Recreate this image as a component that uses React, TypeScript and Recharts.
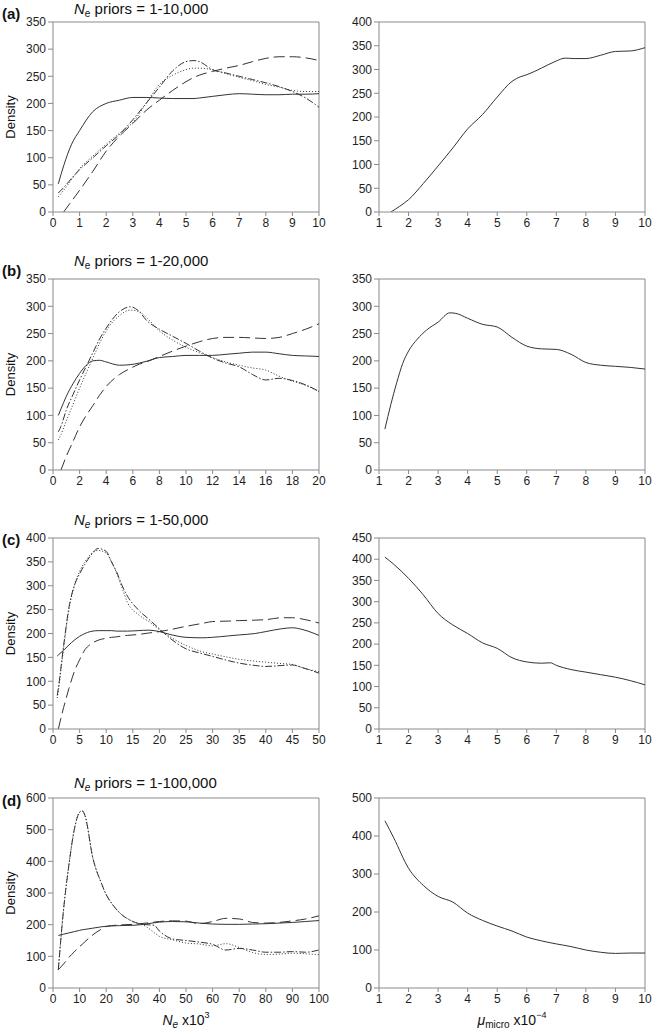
import React from 'react';
import { LineChart, Line, XAxis, YAxis, ReferenceLine } from 'recharts';

const FONT = '"Liberation Sans", Arial, Helvetica, sans-serif';

// ---------- Panel (a) : Ne priors 1-10,000 ----------
const aX = [0.2, 0.4, 0.7, 1, 1.5, 2, 2.5, 3, 3.5, 4, 4.5, 5, 5.3, 5.5, 6, 6.5, 7, 7.5, 8, 8.5, 9, 9.5, 10];
const aSolid = [52, 85, 125, 150, 185, 200, 206, 211, 211, 210, 209, 209, 209, 210, 213, 216, 218, 217, 216, 216, 217, 217, 218];
const aDashDot = [35, 45, 62, 78, 100, 122, 143, 170, 200, 230, 260, 277, 279, 277, 262, 256, 250, 244, 238, 231, 222, 210, 193];
const aDotted = [28, 40, 60, 80, 103, 125, 145, 165, 200, 235, 252, 262, 265, 265, 262, 255, 248, 242, 235, 230, 224, 222, 222];
const aLongDash = [null, 0, 20, 40, 75, 112, 140, 163, 187, 206, 224, 240, 248, 252, 259, 265, 270, 277, 283, 286, 286, 284, 279];
const aMuX = [1.4, 1.7, 2, 2.5, 3, 3.5, 4, 4.5, 5, 5.5, 5.8, 6, 6.5, 7, 7.3, 7.6, 8, 8.5, 9, 9.5, 10];
const aMu = [0, 12, 26, 60, 97, 135, 175, 205, 242, 275, 285, 289, 303, 318, 324, 323, 323, 330, 338, 339, 346];

// ---------- Panel (b) : Ne priors 1-20,000 ----------
const bX = [0.4, 0.6, 1, 1.5, 2, 2.5, 3, 3.5, 4, 5, 5.8, 6.5, 7, 8, 9, 10, 11, 12, 13, 14, 15, 16, 17, 18, 19, 20];
const bSolid = [100, 112, 135, 158, 177, 192, 200, 201, 198, 192, 193, 196, 199, 206, 208, 210, 210, 210, 212, 214, 216, 216, 213, 210, 209, 208];
const bDashDot = [70, 80, 110, 138, 165, 190, 215, 240, 260, 290, 299, 290, 275, 258, 245, 232, 218, 205, 196, 189, 175, 165, 168, 164, 156, 144];
const bDotted = [55, 65, 90, 120, 150, 178, 205, 232, 255, 283, 293, 290, 280, 255, 238, 225, 215, 206, 198, 192, 187, 183, 172, 163, 155, 144];
const bLongDash = [null, 0, 25, 52, 79, 100, 118, 137, 153, 175, 186, 194, 198, 208, 218, 227, 235, 241, 243, 243, 242, 241, 243, 250, 258, 268];
const bMuX = [1.2, 1.4, 1.6, 1.8, 2, 2.3, 2.6, 3, 3.4, 3.6, 4, 4.5, 5, 5.5, 6, 6.5, 7, 7.5, 8, 8.5, 9, 9.5, 10];
const bMu = [75, 120, 160, 195, 218, 240, 256, 271, 288, 287, 278, 267, 262, 243, 227, 222, 221, 212, 197, 192, 190, 188, 185];

// ---------- Panel (c) : Ne priors 1-50,000 ----------
const cX = [0.8, 1, 2, 3, 4, 5, 6, 7, 8.5, 10, 11, 12, 13, 14, 16, 18, 20, 22, 25, 28, 30, 33, 35, 38, 40, 43, 45, 47, 50];
const cSolid = [153, 155, 165, 176, 186, 194, 200, 204, 206, 206, 206, 205, 205, 205, 206, 207, 204, 198, 192, 191, 192, 195, 197, 200, 204, 210, 212, 208, 196];
const cDashDot = [70, 85, 175, 255, 300, 325, 345, 362, 378, 372, 350, 328, 300, 278, 250, 230, 210, 190, 168, 158, 152, 143, 138, 133, 131, 133, 134, 128, 117];
const cDotted = [65, 80, 170, 250, 300, 330, 350, 365, 374, 368, 350, 325, 295, 265, 240, 225, 208, 193, 175, 162, 157, 150, 146, 142, 140, 137, 135, 128, 120];
const cLongDash = [null, 0, 45, 85, 120, 145, 166, 177, 186, 190, 192, 193, 195, 196, 198, 201, 204, 208, 215, 221, 225, 226, 227, 228, 229, 233, 233, 230, 222];
const cMuX = [1.2, 1.5, 2, 2.5, 3, 3.5, 4, 4.5, 5, 5.5, 6, 6.5, 6.8, 7, 7.5, 8, 8.5, 9, 9.5, 10];
const cMu = [405, 388, 355, 316, 272, 245, 225, 203, 190, 168, 158, 155, 156, 150, 140, 134, 128, 122, 114, 104];

// ---------- Panel (d) : Ne priors 1-100,000 ----------
const dX = [2, 4, 6, 8, 10, 11, 12, 15, 18, 20, 22, 25, 30, 35, 38, 40, 45, 50, 55, 60, 65, 70, 75, 80, 85, 90, 95, 100];
const dSolid = [166, 170, 174, 178, 182, 184, 185, 189, 193, 195, 196, 197, 198, 202, 206, 208, 210, 209, 205, 202, 201, 201, 202, 203, 205, 207, 210, 213];
const dDashDot = [58, 250, 390, 500, 555, 560, 545, 410, 335, 295, 268, 238, 210, 200, 198, 180, 155, 150, 145, 138, 120, 125, 120, 113, 113, 115, 113, 120];
const dDotted = [58, 250, 390, 500, 555, 558, 545, 410, 335, 295, 268, 238, 210, 194, 175, 163, 152, 142, 139, 133, 140, 128, 112, 106, 107, 110, 108, 105];
const dLongDash = [58, 76, 97, 114, 131, 138, 146, 168, 185, 194, 197, 199, 201, 205, 208, 210, 212, 211, 203, 210, 220, 218, 207, 205, 207, 212, 218, 228];
const dMuX = [1.2, 1.5, 2, 2.5, 3, 3.5, 4, 4.5, 5, 5.5, 6, 6.5, 7, 7.5, 8, 8.5, 9, 9.5, 10];
const dMu = [440, 395, 315, 270, 241, 226, 197, 178, 163, 150, 134, 124, 116, 109, 100, 94, 91, 92, 92];

// ---------- Tick labels ----------
const aXTicks = [0, 1, 2, 3, 4, 5, 6, 7, 8, 9, 10];
const bXTicks = [0, 2, 4, 6, 8, 10, 12, 14, 16, 18, 20];
const cXTicks = [0, 5, 10, 15, 20, 25, 30, 35, 40, 45, 50];
const dXTicks = [0, 10, 20, 30, 40, 50, 60, 70, 80, 90, 100];
const muXTicks = [1, 2, 3, 4, 5, 6, 7, 8, 9, 10];
const aYTicks = [0, 50, 100, 150, 200, 250, 300, 350];
const aMuYTicks = [0, 50, 100, 150, 200, 250, 300, 350, 400];
const bYTicks = [0, 50, 100, 150, 200, 250, 300, 350];
const bMuYTicks = [0, 50, 100, 150, 200, 250, 300, 350];
const cYTicks = [0, 50, 100, 150, 200, 250, 300, 350, 400];
const cMuYTicks = [0, 50, 100, 150, 200, 250, 300, 350, 400, 450];
const dYTicks = [0, 100, 200, 300, 400, 500, 600];
const dMuYTicks = [0, 100, 200, 300, 400, 500];

const titles = ['1-10,000', '1-20,000', '1-50,000', '1-100,000'];
const panelLetters = ['(a)', '(b)', '(c)', '(d)'];

const buildNe = (xs: number[], solid: any[], dashDot: any[], dotted: any[], longDash: any[]) =>
  xs.map((x, i) => ({ x, solid: solid[i], dashDot: dashDot[i], dotted: dotted[i], longDash: longDash[i] }));
const buildMu = (xs: number[], ys: number[]) => xs.map((x, i) => ({ x, mu: ys[i] }));

const NE_LINES = [
  { key: 'solid', dash: undefined },
  { key: 'longDash', dash: '11 5' },
  { key: 'dotted', dash: '1 2' },
  { key: 'dashDot', dash: '7 2 1.5 2' },
];
const MU_LINES = [{ key: 'mu', dash: undefined }];

const AXIS = '#8a8a8a';
const LINE = '#333333';

function Panel(props: any) {
  const { left, plotTop, plotH, width, yAxisWidth, marginRight, data, lines, xTicks, yTicks } = props;
  const mTop = 8;
  const xAxisH = 24;
  const xMax = xTicks[xTicks.length - 1];
  const yMax = yTicks[yTicks.length - 1];
  const tickStyle = { fill: '#1e1e1e', fontSize: 12, fontFamily: FONT };
  return (
    <div style={{ position: 'absolute', left, top: plotTop - mTop }}>
      <LineChart
        width={width}
        height={mTop + plotH + xAxisH}
        data={data}
        margin={{ top: mTop, right: marginRight, bottom: 0, left: 0 }}
      >
        <XAxis
          dataKey="x"
          type="number"
          domain={[xTicks[0], xMax]}
          ticks={xTicks}
          interval={0}
          allowDataOverflow
          height={xAxisH}
          tickSize={4}
          tickMargin={2}
          stroke={AXIS}
          tick={tickStyle}
        />
        <YAxis
          type="number"
          domain={[yTicks[0], yMax]}
          ticks={yTicks}
          interval={0}
          allowDataOverflow
          width={yAxisWidth}
          tickSize={5}
          tickMargin={2}
          stroke={AXIS}
          tick={tickStyle}
        />
        <ReferenceLine y={yMax} stroke={AXIS} strokeWidth={1} />
        <ReferenceLine x={xMax} stroke={AXIS} strokeWidth={1} />
        {lines.map((l: any) => (
          <Line
            key={l.key}
            dataKey={l.key}
            type="monotone"
            stroke={LINE}
            strokeWidth={1}
            strokeDasharray={l.dash}
            dot={false}
            activeDot={false}
            isAnimationActive={false}
          />
        ))}
      </LineChart>
    </div>
  );
}

const rows = [
  { plotTop: 22, plotH: 190, ne: buildNe(aX, aSolid, aDashDot, aDotted, aLongDash), neX: aXTicks, neY: aYTicks, mu: buildMu(aMuX, aMu), muY: aMuYTicks, titleY: 14, letterY: 19, italicSub: false },
  { plotTop: 279, plotH: 191, ne: buildNe(bX, bSolid, bDashDot, bDotted, bLongDash), neX: bXTicks, neY: bYTicks, mu: buildMu(bMuX, bMu), muY: bMuYTicks, titleY: 266, letterY: 276, italicSub: false },
  { plotTop: 538, plotH: 191, ne: buildNe(cX, cSolid, cDashDot, cDotted, cLongDash), neX: cXTicks, neY: cYTicks, mu: buildMu(cMuX, cMu), muY: cMuYTicks, titleY: 525, letterY: 545, italicSub: true },
  { plotTop: 798, plotH: 190, ne: buildNe(dX, dSolid, dDashDot, dDotted, dLongDash), neX: dXTicks, neY: dYTicks, mu: buildMu(dMuX, dMu), muY: dMuYTicks, titleY: 788, letterY: 806, italicSub: true },
];

export default function App() {
  return (
    <div style={{ position: 'absolute', left: 0, top: 0, width: 652, height: 1030, background: '#fff', overflow: 'hidden', fontFamily: FONT }}>
      {rows.map((r, i) => (
        <React.Fragment key={i}>
          <Panel left={0} plotTop={r.plotTop} plotH={r.plotH} width={330} yAxisWidth={53} marginRight={11} data={r.ne} lines={NE_LINES} xTicks={r.neX} yTicks={r.neY} />
          <Panel left={330} plotTop={r.plotTop} plotH={r.plotH} width={322} yAxisWidth={49} marginRight={7} data={r.mu} lines={MU_LINES} xTicks={muXTicks} yTicks={r.muY} />
        </React.Fragment>
      ))}
      <svg width={652} height={1030} style={{ position: 'absolute', left: 0, top: 0, pointerEvents: 'none' }} fontFamily={FONT}>
        {rows.map((r, i) => (
          <g key={i}>
            <text x={2} y={r.letterY} fontSize={15} fontWeight="bold" fill="#111">{panelLetters[i]}</text>
            <text x={74} y={r.titleY} fontSize={15} fill="#111">
              <tspan fontStyle="italic">N</tspan>
              <tspan fontSize={10} dy={3} fontStyle={r.italicSub ? 'italic' : 'normal'}>e</tspan>
              <tspan dy={-3}>{' priors = ' + titles[i]}</tspan>
            </text>
            <text
              x={0}
              y={0}
              fontSize={13}
              fill="#111"
              textAnchor="middle"
              transform={`translate(15, ${r.plotTop + r.plotH / 2}) rotate(-90)`}
            >
              Density
            </text>
          </g>
        ))}
        <text x={186} y={1025} fontSize={14} fill="#111" textAnchor="middle">
          <tspan fontStyle="italic">N</tspan>
          <tspan fontSize={10} dy={3} fontStyle="italic">e</tspan>
          <tspan dy={-3}>{' x10'}</tspan>
          <tspan fontSize={9} dy={-7}>3</tspan>
        </text>
        <text x={512} y={1025} fontSize={14} fill="#111" textAnchor="middle">
          <tspan fontStyle="italic">μ</tspan>
          <tspan fontSize={10} dy={3}>micro</tspan>
          <tspan dy={-3}>{' x10'}</tspan>
          <tspan fontSize={9} dy={-7}>−4</tspan>
        </text>
      </svg>
    </div>
  );
}
